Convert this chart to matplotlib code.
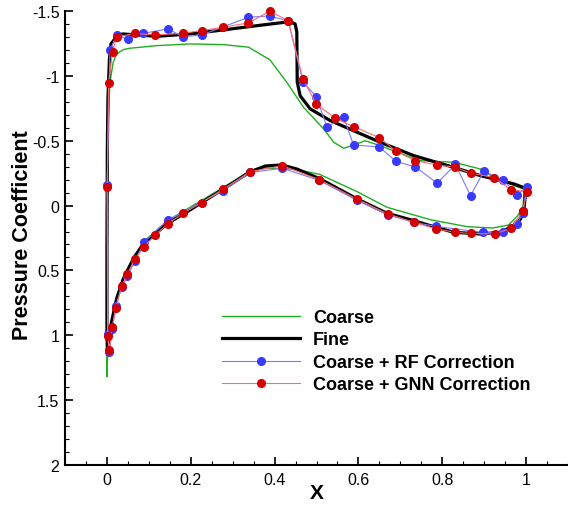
import matplotlib
matplotlib.use("Agg")
import matplotlib.pyplot as plt
import numpy as np
from matplotlib.ticker import MultipleLocator, FormatStrFormatter

plt.rcParams['font.family'] = ['Liberation Sans', 'DejaVu Sans']
plt.rcParams['axes.unicode_minus'] = False

# ---- Fine solution (closed loop: upper TE -> LE -> lower TE)
fine_x = [1.003, 0.971, 0.891, 0.827, 0.732, 0.652, 0.533, 0.485, 0.461, 0.454, 0.453,
          0.449, 0.437, 0.358, 0.277, 0.198, 0.119, 0.038, 0.026, 0.0096, 0.006, 0.0024,
          0.001, 0.0, 0.0, 0.001, 0.003, 0.0055, 0.011, 0.023, 0.039, 0.063, 0.087, 0.143,
          0.198, 0.278, 0.342, 0.378, 0.417, 0.453, 0.509, 0.597, 0.668, 0.732, 0.772,
          0.827, 0.891, 0.939, 0.970, 0.987, 0.995, 0.999, 1.003]
fine_cp = [-0.128, -0.167, -0.231, -0.295, -0.385, -0.488, -0.655, -0.745, -0.847, -0.953, -1.339,
           -1.400, -1.418, -1.387, -1.354, -1.323, -1.305, -1.323, -1.315, -1.246, -1.130, -0.822,
           -0.436, 0.336, 0.953, 1.106, 1.128, 1.051, 0.897, 0.720, 0.566, 0.412, 0.296, 0.142,
           0.034, -0.128, -0.261, -0.305, -0.313, -0.282, -0.205, -0.051, 0.059, 0.116, 0.155,
           0.206, 0.219, 0.206, 0.155, 0.103, 0.026, -0.105, -0.128]

# ---- Coarse solution
coarse_x = [0.995, 0.971, 0.923, 0.891, 0.827, 0.748, 0.692, 0.652, 0.616, 0.585, 0.565,
            0.541, 0.517, 0.469, 0.429, 0.389, 0.338, 0.278, 0.198, 0.119, 0.055, 0.039,
            0.023, 0.015, 0.0072, 0.002, 0.0, 0.0, 0.001, 0.004, 0.010, 0.022, 0.038,
            0.062, 0.087, 0.143, 0.200, 0.278, 0.342, 0.370, 0.418, 0.450, 0.508, 0.597,
            0.668, 0.772, 0.860, 0.920, 0.958, 0.980, 0.993, 0.995]
coarse_cp = [-0.128, -0.153, -0.218, -0.282, -0.334, -0.346, -0.411, -0.462, -0.500, -0.462, -0.442,
             -0.488, -0.591, -0.758, -0.951, -1.123, -1.221, -1.241, -1.246, -1.233, -1.213, -1.202,
             -1.169, -1.105, -0.951, -0.600, 0.300, 1.320, 1.200, 1.050, 0.910, 0.720, 0.560,
             0.400, 0.280, 0.120, 0.010, -0.140, -0.270, -0.290, -0.285, -0.280, -0.240, -0.107,
             0.013, 0.109, 0.163, 0.173, 0.150, 0.078, 0.011, -0.128]

# ---- Coarse + RF correction
rf_x = [0.9916, 0.9790, 0.9455, 0.8977, 0.7857, 0.7329, 0.6703, 0.5957, 0.5066, 0.4182,
        0.3417, 0.2779, 0.1450, 0.0884, 0.0669, 0.0490, 0.0351, 0.0215, 0.0127, 0.0055,
        0.0017, 0.0007, 0.0072, 0.0232, 0.0495, 0.0872, 0.1450, 0.1823, 0.2263, 0.3376,
        0.3883, 0.4325, 0.4676, 0.4994, 0.5250, 0.5646, 0.5885, 0.6499, 0.6898, 0.7360,
        0.7878, 0.8315, 0.8674, 0.8992, 0.9455, 0.9790, 1.0012, 0.9916]
rf_cp = [0.059, 0.142, 0.207, 0.207, 0.161, 0.130, 0.070, -0.043, -0.194, -0.288,
         -0.255, -0.116, 0.111, 0.283, 0.427, 0.543, 0.628, 0.772, 0.951, 1.126,
         0.990, -0.161, -1.200, -1.315, -1.284, -1.328, -1.362, -1.302, -1.315, -1.452,
         -1.462, -1.423, -0.955, -0.840, -0.606, -0.681, -0.467, -0.452, -0.340, -0.298,
         -0.173, -0.317, -0.076, -0.264, -0.197, -0.082, -0.147, 0.059]

# ---- Coarse + GNN correction
gnn_x = [0.9924, 0.9637, 0.9247, 0.8674, 0.8303, 0.7861, 0.7329, 0.6703, 0.5957, 0.5066,
         0.4182, 0.3417, 0.2779, 0.2258, 0.1816, 0.1450, 0.1147, 0.0884, 0.0669, 0.0490,
         0.0351, 0.0215, 0.0127, 0.0055, 0.0017, 0.0007, 0.0038, 0.0136, 0.0232, 0.0669,
         0.1147, 0.1823, 0.2263, 0.2779, 0.3376, 0.3883, 0.4325, 0.4676, 0.4994, 0.5448,
         0.5885, 0.6499, 0.6898, 0.7360, 0.7878, 0.8315, 0.8674, 0.9240, 0.9637, 1.0019, 0.9924]
gnn_cp = [0.042, 0.175, 0.219, 0.215, 0.206, 0.180, 0.130, 0.065, -0.051, -0.200,
          -0.308, -0.261, -0.128, -0.022, 0.059, 0.142, 0.227, 0.319, 0.412, 0.527,
          0.620, 0.791, 0.938, 1.111, 1.005, -0.141, -0.943, -1.187, -1.298, -1.328,
          -1.315, -1.328, -1.349, -1.375, -1.408, -1.498, -1.426, -0.976, -0.783, -0.673,
          -0.608, -0.524, -0.419, -0.346, -0.313, -0.295, -0.251, -0.215, -0.123, -0.107, 0.042]

labels = ['Coarse', 'Fine', 'Coarse + RF Correction', 'Coarse + GNN Correction']

fig = plt.figure(figsize=(5.68, 5.10), dpi=100)
ax = fig.add_axes([65/568, 44/510, 503/568, 454/510])

ax.plot(coarse_x, coarse_cp, color='#1fae1f', lw=1.0, label=labels[0], zorder=2, clip_on=False)
ax.plot(fine_x, fine_cp, color='black', lw=2.3, label=labels[1], zorder=3,
        solid_joinstyle='round', clip_on=False)
ax.plot(rf_x, rf_cp, color='#7a7aff', lw=0.8, marker='o', ms=5.5,
        mfc='#3a3aff', mec='#3a3aff', label=labels[2], zorder=4, clip_on=False)
ax.plot(gnn_x, gnn_cp, color='#ff6a6a', lw=0.8, marker='o', ms=5.5,
        mfc='#d40000', mec='#d40000', label=labels[3], zorder=5, clip_on=False)

ax.set_xlim(-0.1, 1.1)
ax.set_ylim(2, -1.5)

ax.xaxis.set_major_locator(MultipleLocator(0.2))
ax.xaxis.set_minor_locator(MultipleLocator(0.05))
ax.yaxis.set_major_locator(MultipleLocator(0.5))
ax.yaxis.set_minor_locator(MultipleLocator(0.1))
ax.xaxis.set_major_formatter(FormatStrFormatter('%g'))
ax.yaxis.set_major_formatter(FormatStrFormatter('%g'))

ax.tick_params(which='both', direction='in', top=False, right=False, labelsize=11.5)
ax.tick_params(which='major', length=6, width=1.2)
ax.tick_params(which='minor', length=3, width=0.8)
ax.tick_params(axis='y', pad=4)
ax.tick_params(axis='x', pad=5)

for s in ['top', 'right']:
    ax.spines[s].set_visible(False)
for s in ['left', 'bottom']:
    ax.spines[s].set_linewidth(1.5)

ax.set_xlabel('X', fontsize=15, fontweight='bold')
ax.set_ylabel('Pressure Coefficient', fontsize=15.5, fontweight='bold')
ax.xaxis.set_label_coords(0.5, -0.04)
ax.yaxis.set_label_coords(-0.064, 0.509)

leg = ax.legend(loc='upper left', bbox_to_anchor=(222/568, 1 - 310/510),
                bbox_transform=fig.transFigure, frameon=False,
                prop={'weight': 'bold', 'size': 13}, handlelength=4.3,
                handletextpad=0.75, labelspacing=0.3, borderpad=0, borderaxespad=0)

fig.savefig('out.png', dpi=100)
